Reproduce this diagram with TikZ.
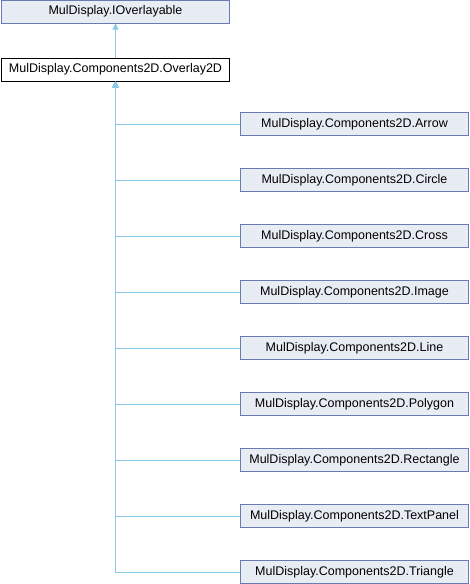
\documentclass[tikz,border=0pt]{standalone}
\usepackage{fontspec}
\setmainfont{Liberation Sans}
\usetikzlibrary{arrows.meta,positioning}
\definecolor{boxfill}{RGB}{232,236,245}
\definecolor{boxline}{RGB}{104,124,178}
\definecolor{edgeblue}{RGB}{140,200,232}

\begin{document}
\begin{tikzpicture}[
    x=1pt,y=-1pt,
    node distance=34pt,
    cls/.style={draw=boxline,fill=boxfill,line width=1pt,inner sep=0pt,
      minimum width=228pt,minimum height=23pt,font=\fontsize{12.5}{14}\selectfont},
    cur/.style={cls,draw=black,fill=white},
    edge/.style={-{Triangle[length=6pt,width=6pt,fill=edgeblue]},draw=edgeblue,line width=1pt}
  ]
    \useasboundingbox (0,0) rectangle (470,584);
    \node[cls] (ovl) at (115.5,11.5) {MulDisplay.IOverlayable};
    \node[cur,below=of ovl] (base) {MulDisplay.Components2D.Overlay2D};
    \draw[edge] (base)--(ovl);
    \foreach \name [count=\i from 0] in {Arrow,Circle,Cross,Image,Line,Polygon,Rectangle,TextPanel,Triangle} {
      \node[cls] (c\i) at (354.5,124+56*\i) {MulDisplay.Components2D.\name};
      \draw[edge] (c\i.west) -| (base.south);
    }
  \end{tikzpicture}
\end{document}
